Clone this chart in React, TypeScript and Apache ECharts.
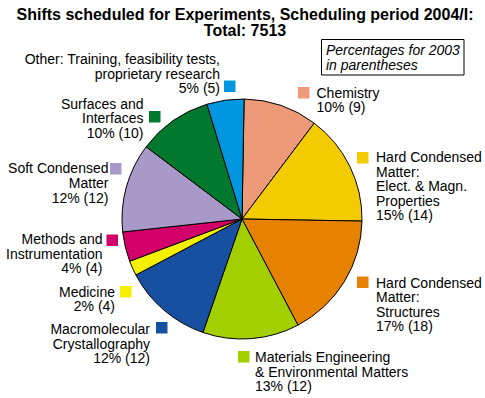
import React, { useEffect, useRef } from "react";
import * as echarts from "echarts";

const titleLines = ["Shifts scheduled for Experiments, Scheduling period 2004/I:", "Total: 7513"];
const noteLines = ["Percentages for 2003", "in parentheses"];

const categories = [
  "Chemistry",
  "Hard Condensed\nMatter:\nElect. & Magn.\nProperties",
  "Hard Condensed\nMatter:\nStructures",
  "Materials Engineering\n& Environmental Matters",
  "Macromolecular\nCrystallography",
  "Medicine",
  "Methods and\nInstrumentation",
  "Soft Condensed\nMatter",
  "Surfaces and\nInterfaces",
  "Other: Training, feasibility tests,\nproprietary research",
];
const share2004 = [10, 15, 17, 13, 12, 2, 4, 12, 10, 5];
const share2003 = [9, 14, 18, 12, 12, 4, 4, 12, 10, 5];
const colors = [
  "#EE9A78",
  "#F2CC00",
  "#E68200",
  "#A3CE00",
  "#1750A0",
  "#F5F000",
  "#D3006A",
  "#A899C8",
  "#00782E",
  "#0096E0",
];

// label layout: [textX, firstLineCenterY, align, squareX, squareY]
const labelLayout: [number, number, "left" | "right", number, number][] = [
  [316.5, 92.5, "left", 298, 87],
  [376, 157, "left", 357, 152],
  [376, 282.5, "left", 357, 276.5],
  [255, 357, "left", 238, 351],
  [150, 329, "right", 156, 322],
  [115, 291.7, "right", 120, 286],
  [102.5, 239, "right", 106.5, 234.5],
  [108.5, 168.3, "right", 110, 163],
  [143.5, 103.5, "right", 149, 111],
  [220, 59, "right", 224, 80.5],
];

const FONT = '"Liberation Sans", Arial, Helvetica, sans-serif';
const LH = 14.6;

export default function App() {
  const ref = useRef<HTMLDivElement>(null);
  useEffect(() => {
    if (!ref.current) return;
    const chart = echarts.init(ref.current, null, { renderer: "svg" });
    const graphics: any[] = [];
    categories.forEach((name, i) => {
      const [tx, cy, align, sx, sy] = labelLayout[i];
      graphics.push({
        type: "rect",
        silent: true,
        shape: { x: sx, y: sy, width: 11.5, height: 11.5 },
        style: { fill: colors[i] },
      });
      graphics.push({
        type: "text",
        silent: true,
        x: tx,
        y: cy - LH / 2,
        style: {
          text: `${name}\n${share2004[i]}% (${share2003[i]})`,
          font: `14px ${FONT}`,
          fill: "#000",
          align,
          verticalAlign: "top",
          lineHeight: LH,
        },
      });
    });
    graphics.push({
      type: "rect",
      silent: true,
      shape: { x: 321.5, y: 39.5, width: 142.5, height: 35.5 },
      style: { fill: "#fff", stroke: "#000", lineWidth: 1 },
    });
    graphics.push({
      type: "text",
      silent: true,
      x: 326,
      y: 42.5,
      style: {
        text: noteLines.join("\n"),
        font: `italic 14px ${FONT}`,
        fill: "#000",
        align: "left",
        verticalAlign: "top",
        lineHeight: 15,
      },
    });
    graphics.push({
      type: "text",
      silent: true,
      x: 245,
      y: 14 - 8,
      style: {
        text: titleLines.join("\n"),
        font: `bold 16px ${FONT}`,
        fill: "#000",
        align: "center",
        verticalAlign: "top",
        lineHeight: 16,
      },
    });

    chart.setOption({
      animation: false,
      backgroundColor: "#fff",
      series: [
        {
          type: "pie",
          center: [242, 219],
          radius: 120,
          startAngle: 89,
          clockwise: true,
          silent: true,
          label: { show: false },
          labelLine: { show: false },
          emphasis: { disabled: true },
          itemStyle: { borderColor: "#000", borderWidth: 1 },
          data: categories.map((name, i) => ({
            name,
            value: share2004[i],
            itemStyle: { color: colors[i] },
          })),
        },
      ],
      graphic: graphics,
    });
    return () => chart.dispose();
  }, []);
  return (
    <div
      ref={ref}
      style={{ position: "fixed", left: 0, top: 0, width: 485, height: 398, background: "#fff" }}
    />
  );
}
